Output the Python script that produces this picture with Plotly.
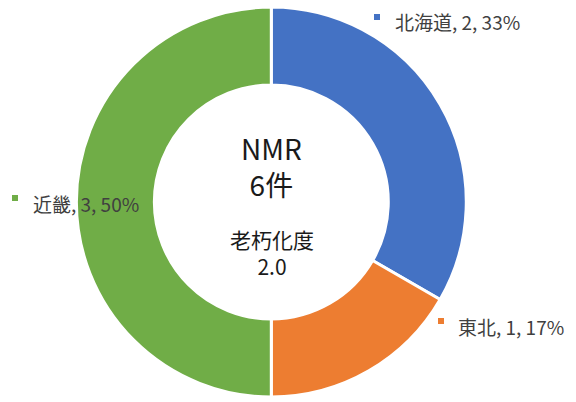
import plotly.graph_objects as go

regions = ["北海道", "東北", "近畿"]
counts = [2, 1, 3]
colors = ["#4472C4", "#ED7D31", "#70AD47"]
center_title = "NMR"
center_unit = "件"
aging_label = "老朽化度"
aging_value = 2.0

total = sum(counts)
pcts = [round(c / total * 100) for c in counts]

W, H = 576, 402
fig = go.Figure()
fig.add_trace(go.Pie(
    labels=regions,
    values=counts,
    sort=False,
    direction="clockwise",
    rotation=0,
    hole=0.6,
    marker=dict(colors=colors, line=dict(color="white", width=3)),
    textinfo="none",
    hoverinfo="label+value+percent",
    showlegend=False,
    domain=dict(x=[0.1325, 0.8095], y=[0.0124, 0.9826]),
))

# label positions (pixels from top-left): marker x, text left x, center y
label_pos = [(377, 393, 22), (441, 456, 326), (15, 31, 203)]
annotations = []
shapes = []
for (mx, tx, cy), name, v, p, col in zip(label_pos, regions, counts, pcts, colors):
    annotations.append(dict(
        x=tx / W, y=1 - cy / H, xref="paper", yref="paper",
        xanchor="left", yanchor="middle", showarrow=False,
        text=f"{name}, {v}, {p}%",
        font=dict(size=19, color="#404040", family="Noto Sans CJK JP"),
    ))
    shapes.append(dict(
        type="rect", xref="paper", yref="paper",
        x0=(mx - 3) / W, x1=(mx + 3) / W,
        y0=1 - (cy - 5 + 3) / H, y1=1 - (cy - 5 - 3) / H,
        fillcolor=col, line=dict(width=0),
    ))

cx = 271.5
center_blocks = [
    (f"{center_title}<br>{total}{center_unit}", 166, 28),
    (f"{aging_label}<br>{aging_value:.1f}", 252, 21),
]
for txt, cy, sz in center_blocks:
    annotations.append(dict(
        x=cx / W, y=1 - cy / H, xref="paper", yref="paper",
        xanchor="center", yanchor="middle", showarrow=False,
        text=txt,
        font=dict(size=sz, color="#1a1a1a", family="Noto Sans CJK JP"),
    ))

fig.update_layout(
    width=W, height=H,
    margin=dict(l=0, r=0, t=0, b=0),
    paper_bgcolor="white",
    plot_bgcolor="white",
    annotations=annotations,
    shapes=shapes,
)
fig.write_html("out.html")
